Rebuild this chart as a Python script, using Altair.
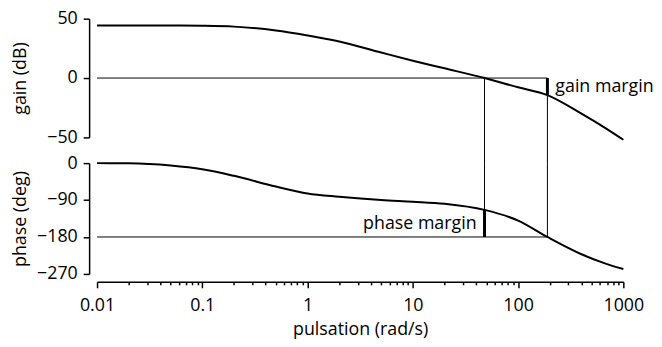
import altair as alt
import pandas as pd

# ---- data ----
freq = [0.01, 0.02, 0.05, 0.1, 0.2, 0.5, 1, 2, 5, 10, 20, 48, 100, 190, 400, 700, 1000]
gain = [44.2, 44.2, 44.2, 44.0, 43.3, 40.0, 35.8, 30.8, 21.5, 14.6, 8.2, 0.0, -7.8, -14.4, -30.0, -43.0, -52.0]
phase = [0, -0.5, -6, -15, -31, -57, -74, -82, -90, -94, -99, -114, -140, -180, -222, -246, -258]

w_gain_cross = 48      # gain crossover (gain = 0 dB)
w_phase_cross = 190    # phase crossover (phase = -180 deg)
gain_at_pc = -14.4     # gain at phase crossover
phase_at_gc = -114     # phase at gain crossover

gain_ticks = [-50, 0, 50]
phase_ticks = [-270, -180, -90, 0]
x_ticks = [m * 10 ** e for e in range(-2, 3) for m in range(1, 10)] + [1000]

FONT = "Open Sans"
FS = 18
W = 532
H_GAIN = 120
H_PHASE = 112
SPACING = 26

df = pd.DataFrame({"w": freq, "gain": gain, "phase": phase})

xscale = alt.Scale(type="log", domain=[0.01, 1000], nice=False)
gscale = alt.Scale(domain=[-50, 50], nice=False)
pscale = alt.Scale(domain=[-270, 0], nice=False)

gap_db = SPACING / (H_GAIN / 100.0)

decade_test = "abs(log(datum.value)/LN10 - round(log(datum.value)/LN10)) < 0.000001"
gaxis = alt.Axis(values=gain_ticks, title="gain (dB)", offset=8, tickSize=6, labelPadding=6,
                 titleX=-60, titleAnchor="middle")
paxis = alt.Axis(values=phase_ticks, title="phase (deg)", offset=8, tickSize=6, labelPadding=6,
                 titleX=-60, titleAnchor="middle")
xaxis = alt.Axis(values=x_ticks, title="pulsation (rad/s)", offset=8, format="~g",
                 labelExpr=f"{decade_test} ? datum.label : ''",
                 tickSize={"condition": {"test": decade_test, "value": 6}, "value": 3},
                 labelPadding=9, titlePadding=6, labelFlush=False, labelOverlap=False)

def gx(f):
    return alt.X(f, scale=xscale, axis=None)

def gy(f):
    return alt.Y(f, scale=gscale, axis=gaxis)

def px(f):
    return alt.X(f, scale=xscale, axis=xaxis)

def py(f):
    return alt.Y(f, scale=pscale, axis=paxis)

# ---------------- gain panel ----------------
g_line = alt.Chart(df).mark_line(color="black", strokeWidth=2, interpolate="monotone").encode(
    x=gx("w:Q"), y=gy("gain:Q"))
g_h = alt.Chart(pd.DataFrame({"a": [0.01], "b": [w_phase_cross], "v": [0]})).mark_rule(
    color="black", strokeWidth=1).encode(x=gx("a:Q"), x2="b:Q", y=gy("v:Q"))
g_v = alt.Chart(pd.DataFrame({"a": [w_gain_cross, w_phase_cross], "v": [0, 0],
                              "u": [-50 - gap_db, -50 - gap_db]})).mark_rule(
    color="black", strokeWidth=1).encode(x=gx("a:Q"), y=gy("v:Q"), y2="u:Q")
g_bar = alt.Chart(pd.DataFrame({"a": [w_phase_cross], "v": [0], "u": [gain_at_pc]})).mark_rule(
    color="black", strokeWidth=3).encode(x=gx("a:Q"), y=gy("v:Q"), y2="u:Q")
g_txt = alt.Chart(pd.DataFrame({"a": [w_phase_cross], "v": [gain_at_pc / 2], "t": ["gain margin"]})).mark_text(
    align="left", baseline="middle", dx=8, font=FONT, fontSize=FS, color="black").encode(
    x=gx("a:Q"), y=gy("v:Q"), text="t:N")

gain_panel = alt.layer(g_h, g_v, g_line, g_bar, g_txt).properties(width=W, height=H_GAIN)

# ---------------- phase panel ----------------
p_line = alt.Chart(df).mark_line(color="black", strokeWidth=2, interpolate="monotone").encode(
    x=px("w:Q"), y=py("phase:Q"))
p_h = alt.Chart(pd.DataFrame({"a": [0.01], "b": [w_phase_cross], "v": [-180]})).mark_rule(
    color="black", strokeWidth=1).encode(x=px("a:Q"), x2="b:Q", y=py("v:Q"))
p_v = alt.Chart(pd.DataFrame({"a": [w_gain_cross, w_phase_cross], "v": [-180, -180], "u": [0, 0]})).mark_rule(
    color="black", strokeWidth=1).encode(x=px("a:Q"), y=py("v:Q"), y2="u:Q")
p_bar = alt.Chart(pd.DataFrame({"a": [w_gain_cross], "v": [-180], "u": [phase_at_gc]})).mark_rule(
    color="black", strokeWidth=3).encode(x=px("a:Q"), y=py("v:Q"), y2="u:Q")
p_txt = alt.Chart(pd.DataFrame({"a": [w_gain_cross], "v": [-148], "t": ["phase margin"]})).mark_text(
    align="right", baseline="middle", dx=-8, font=FONT, fontSize=FS, color="black").encode(
    x=px("a:Q"), y=py("v:Q"), text="t:N")

phase_panel = alt.layer(p_h, p_v, p_line, p_bar, p_txt).properties(width=W, height=H_PHASE)

chart = alt.vconcat(gain_panel, phase_panel, spacing=SPACING, bounds="flush").properties(
    padding={"left": 4, "top": 0, "right": 0, "bottom": 0}
).configure_axis(
    labelFont=FONT, labelFontSize=FS, titleFont=FONT, titleFontSize=FS, titleFontWeight="normal",
    labelColor="black", titleColor="black", domainColor="black", tickColor="black",
    domainWidth=1.5, tickWidth=1.5, grid=False,
).configure_view(strokeWidth=0)

chart.save("out.html", embed_options={"renderer": "svg", "actions": False})
